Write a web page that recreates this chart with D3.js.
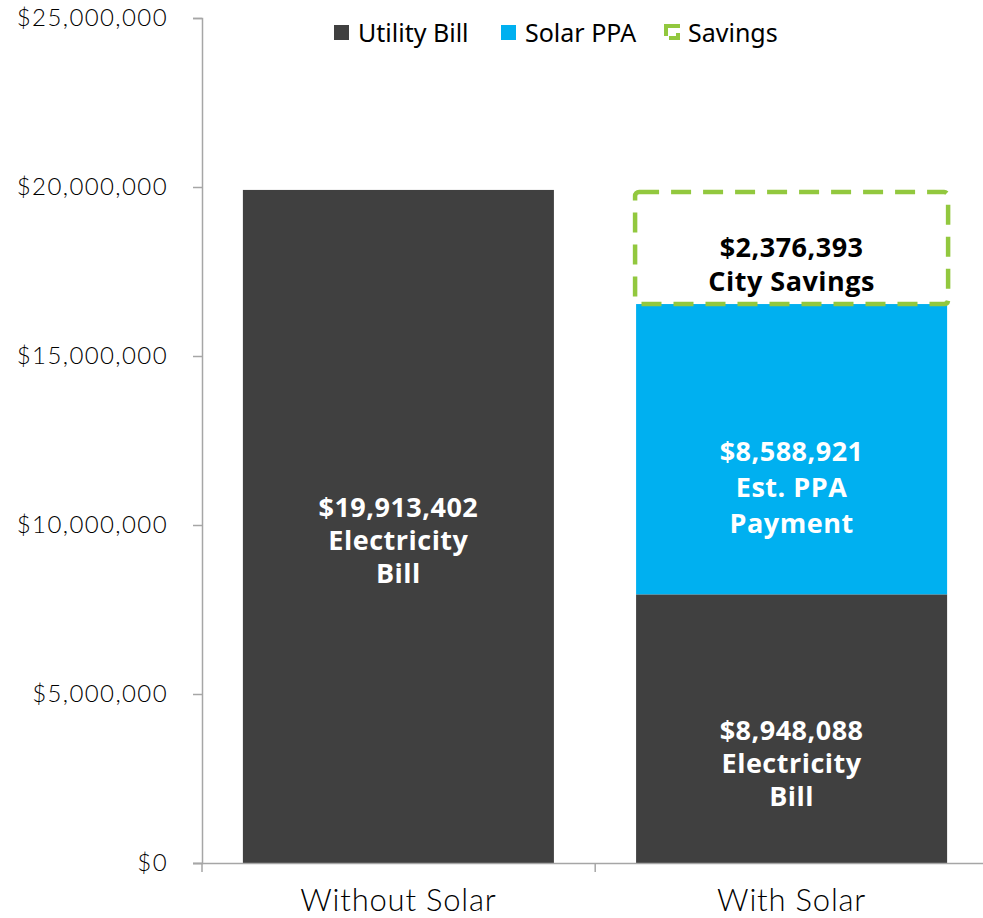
<!DOCTYPE html>
<html>
<head>
<meta charset="utf-8">
<script src="https://cdn.jsdelivr.net/npm/d3@7"></script>
<style>
    body { margin: 0; background: #fff; }
    .axis path, .axis line { stroke: #a6a6a6; stroke-width: 1.5px; }
    .axis text { font-family: Lato, "Open Sans", sans-serif; font-weight: 300; fill: #000; }
    .bar-label { font-family: "Open Sans", "Noto Sans", sans-serif; font-weight: 700; font-size: 27px; text-anchor: middle; letter-spacing: 0.5px; }
    .legend text { font-family: "Noto Sans", "Open Sans", sans-serif; font-size: 25px; fill: #000; }
</style>
</head>
<body>
<div id="chart"></div>
<script>
// chart data
let categories = ["Without Solar", "With Solar"];
let utilityBill = [19913402, 7948088];   // bar heights as drawn
let solarPPA = [0, 8588921];
let totalBill = [19913402, 19913402];      // savings box reaches the original bill
let yTicks = [0, 5000000, 10000000, 15000000, 20000000, 25000000];

let utilityLabels = [["$19,913,402", "Electricity", "Bill"], ["$8,948,088", "Electricity", "Bill"]];
let ppaLabel = ["$8,588,921", "Est. PPA", "Payment"];
let savingsLabel = ["$2,376,393", "City Savings"];

let legendItems = ["Utility Bill", "Solar PPA", "Savings"];

let darkColor = "#404040";
let blueColor = "#00b0f0";
let greenColor = "#92c83e";

let margin = {top: 18, left: 202, right: -5, bottom: 55};
let width = 983 - margin.left - margin.right;
let height = 918 - margin.top - margin.bottom;

let svg = d3.select("#chart").append("svg")
    .attr("width", 983)
    .attr("height", 918)
    .append("g")
    .attr("transform", `translate(${margin.left}, ${margin.top})`);

// scales
let x = d3.scaleBand()
    .domain(categories)
    .range([0, width])
    .paddingInner(0.209)
    .paddingOuter(0.104);

let y = d3.scaleLinear()
    .domain([0, 25000000])
    .range([height, 0]);

// y axis
let yAxis = svg.append("g")
    .attr("class", "axis axis--y")
    .call(d3.axisLeft(y)
        .tickValues(yTicks)
        .tickSize(9)
        .tickPadding(25)
        .tickFormat(d => "$" + d3.format(",")(d)));
yAxis.selectAll("text")
    .style("font-size", "24px")
    .style("letter-spacing", "1.4px");

// utility bars
svg.selectAll(".bar-utility")
    .data(categories)
    .enter().append("rect")
    .attr("class", "bar-utility")
    .attr("x", d => x(d))
    .attr("width", x.bandwidth())
    .attr("y", (d, i) => y(utilityBill[i]))
    .attr("height", (d, i) => y(0) - y(utilityBill[i]))
    .attr("fill", darkColor);

// solar PPA bars, stacked on top
svg.selectAll(".bar-ppa")
    .data(categories)
    .enter().append("rect")
    .attr("class", "bar-ppa")
    .attr("x", d => x(d))
    .attr("width", x.bandwidth())
    .attr("y", (d, i) => y(utilityBill[i] + solarPPA[i]))
    .attr("height", (d, i) => y(utilityBill[i]) - y(utilityBill[i] + solarPPA[i]))
    .attr("fill", blueColor);

// savings dashed box (only where there is a ppa)
svg.selectAll(".bar-savings")
    .data(categories.filter((d, i) => solarPPA[i] > 0))
    .enter().append("rect")
    .attr("class", "bar-savings")
    .attr("x", d => x(d) - 1)
    .attr("width", x.bandwidth() + 2)
    .attr("y", d => {
        let i = categories.indexOf(d);
        return y(totalBill[i]) + 2;
    })
    .attr("height", d => {
        let i = categories.indexOf(d);
        return y(utilityBill[i] + solarPPA[i]) - y(totalBill[i]) - 2;
    })
    .attr("rx", 4)
    .attr("fill", "none")
    .attr("stroke", greenColor)
    .attr("stroke-width", 4.5)
    .attr("stroke-dasharray", "20,12");

// x axis
let xAxis = svg.append("g")
    .attr("class", "axis axis--x")
    .attr("transform", `translate(0, ${height})`)
    .call(d3.axisBottom(x).tickSize(0).tickSizeOuter(0).tickPadding(19));
xAxis.select(".domain").attr("d", `M-9,0.5H${width + 10}`);
xAxis.selectAll("text")
    .style("font-size", "31px")
    .style("letter-spacing", "0.8px")
    .attr("dy", "0.95em");

// category separators under the axis
let sepPositions = [0, x.step(), x.step() * 2];
xAxis.selectAll(".sep")
    .data(sepPositions)
    .enter().append("line")
    .attr("class", "sep")
    .attr("x1", d => d).attr("x2", d => d)
    .attr("y1", 0).attr("y2", 9);

// text labels inside bars
function addLabel(lines, cx, cy, color, lineHeight) {
    let t = svg.append("text")
        .attr("class", "bar-label")
        .attr("fill", color);
    let offset = -(lines.length - 1) * lineHeight / 2;
    lines.forEach((line, k) => {
        t.append("tspan")
            .attr("x", cx)
            .attr("y", cy + offset + k * lineHeight)
            .attr("dy", "0.35em")
            .text(line);
    });
}

categories.forEach((c, i) => {
    let cx = x(c) + x.bandwidth() / 2;
    let mid = (y(0) + y(utilityBill[i])) / 2;
    addLabel(utilityLabels[i], cx, mid + (i === 0 ? 14 : 35), "#fff", 33);
    if (solarPPA[i] > 0) {
        let top = y(utilityBill[i] + solarPPA[i]);
        addLabel(ppaLabel, cx, (y(utilityBill[i]) + top) / 2 + 38, "#fff", 36);
        addLabel(savingsLabel, cx, (top + y(totalBill[i])) / 2 + 18, "#000", 34);
    }
});

// legend
let legend = svg.append("g")
    .attr("class", "legend")
    .attr("transform", `translate(${-margin.left}, ${-margin.top})`);
let legendX = [334, 501, 664];
let legendColors = [darkColor, blueColor, greenColor];

legendItems.forEach((name, i) => {
    if (i < 2) {
        legend.append("rect")
            .attr("x", legendX[i]).attr("y", 25)
            .attr("width", 15).attr("height", 15)
            .attr("fill", legendColors[i]);
    } else {
        legend.append("rect")
            .attr("x", legendX[i] + 2).attr("y", 26)
            .attr("width", 12).attr("height", 12)
            .attr("fill", "none")
            .attr("stroke", greenColor)
            .attr("stroke-width", 4)
            .attr("stroke-dasharray", "14,5");
    }
    legend.append("text")
        .attr("x", legendX[i] + 24)
        .attr("y", 42)
        .text(name);
});
</script>
</body>
</html>
